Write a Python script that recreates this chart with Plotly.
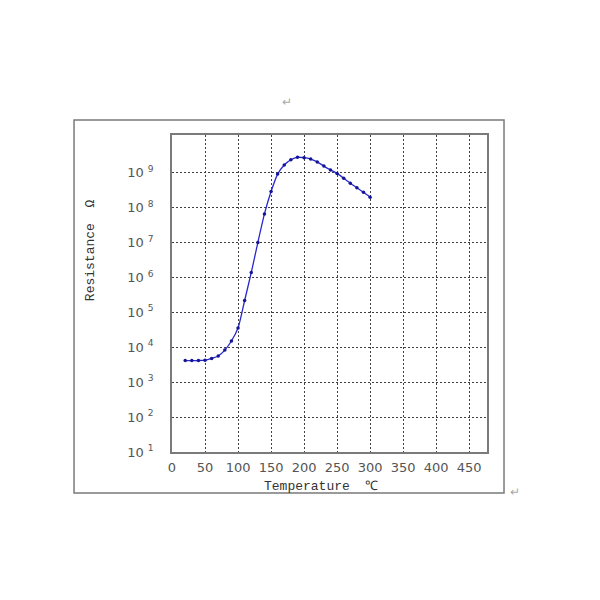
"""Resistance vs temperature, log scale, in the style of an old scanned figure."""
import plotly.graph_objects as go

# Data
temperature_c = [20, 30, 40, 50, 60, 70, 80, 90, 100, 110, 120, 130, 140, 150,
                 160, 170, 180, 190, 200, 210, 220, 230, 240, 250, 260, 270,
                 280, 290, 300]
log_resistance = [3.62, 3.62, 3.62, 3.63, 3.68, 3.75, 3.92, 4.18, 4.55, 5.34,
                  6.14, 7.0, 7.82, 8.46, 8.96, 9.22, 9.37, 9.44, 9.43, 9.39,
                  9.31, 9.19, 9.08, 8.98, 8.84, 8.7, 8.57, 8.44, 8.3]
resistance_ohm = [10 ** v for v in log_resistance]

x_ticks = [0, 50, 100, 150, 200, 250, 300, 350, 400, 450]
y_exponents = [1, 2, 3, 4, 5, 6, 7, 8, 9]

line_colour = "rgb(40,40,205)"
frame_colour = "#7a7a7a"
grid_colour = "#404040"
tick_font = dict(family="DejaVu Sans", size=13, color="#555555")
title_font = dict(family="Liberation Mono", size=13, color="#333333")

fig = go.Figure()
fig.add_trace(go.Scatter(
    x=temperature_c,
    y=resistance_ohm,
    mode="lines+markers",
    line=dict(color=line_colour, width=1.3, shape="spline", smoothing=0.6),
    marker=dict(color="rgb(20,20,150)", size=3.5),
    showlegend=False,
))

# The page body adds 8px round the figure, so margins are 8px less on top/left
fig.update_layout(
    width=600,
    height=600,
    margin=dict(l=164, r=121, t=127, b=156),
    paper_bgcolor="white",
    plot_bgcolor="white",
)

fig.update_xaxes(
    range=[0, 477],
    tickvals=x_ticks,
    ticktext=[str(t) for t in x_ticks],
    tickfont=tick_font,
    ticks="",
    ticklabelstandoff=3,
    showgrid=True,
    gridcolor=grid_colour,
    griddash="2px,2px",
    gridwidth=1,
    zeroline=False,
    showline=True,
    mirror=True,
    linecolor=frame_colour,
    linewidth=1.5,
)

fig.update_yaxes(
    type="log",
    range=[1, 10.08],
    tickvals=[10 ** e for e in y_exponents],
    ticktext=[f"10 <sup>{e}</sup>" for e in y_exponents],
    tickfont=tick_font,
    ticks="",
    ticklabelstandoff=14,
    showgrid=True,
    gridcolor=grid_colour,
    griddash="2px,2px",
    gridwidth=1,
    zeroline=False,
    showline=True,
    mirror=True,
    linecolor=frame_colour,
    linewidth=1.5,
)

# Outer frame round the whole figure
fig.add_shape(
    type="rect", xref="paper", yref="paper",
    x0=-0.311, x1=1.054, y0=-0.129, y1=1.047,
    line=dict(color=frame_colour, width=1.5),
)

# Axis titles placed where the scan has them
fig.add_annotation(
    text="Temperature  ℃", xref="paper", yref="paper",
    x=0.473, y=-0.11, xanchor="center", yanchor="middle",
    showarrow=False, font=title_font,
)
fig.add_annotation(
    text="Resistance  Ω", xref="paper", yref="paper",
    x=-0.26, y=0.637, xanchor="center", yanchor="middle",
    textangle=-90, showarrow=False, font=title_font,
)

# Paragraph marks left over from the document
fig.add_annotation(
    text="↵", xref="paper", yref="paper", x=0.365, y=1.107,
    xanchor="center", yanchor="middle",
    showarrow=False, font=dict(size=12, color="#aaaaaa"),
)
fig.add_annotation(
    text="↵", xref="paper", yref="paper", x=1.089, y=-0.124,
    xanchor="center", yanchor="middle",
    showarrow=False, font=dict(size=12, color="#aaaaaa"),
)

fig.write_html("out.html")
